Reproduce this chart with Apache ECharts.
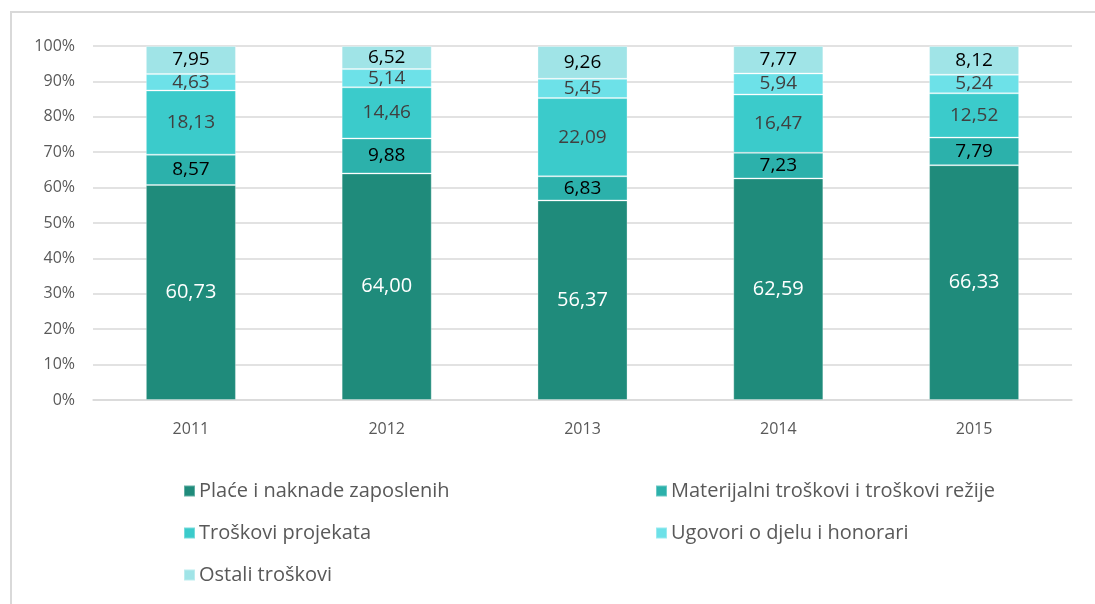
<!DOCTYPE html>
<html>
<head>
<meta charset="utf-8">
<script src="https://cdn.jsdelivr.net/npm/echarts@6/dist/echarts.min.js"></script>
<style>
  html, body { margin: 0; padding: 0; background: #fff; }
  #wrap { position: relative; width: 1095px; height: 604px; }
  #myChart { width: 1095px; height: 604px; }
  #frame {
    position: absolute; left: 10px; top: 11px; right: -5px; bottom: -5px;
    border-left: 2px solid #d9d9d9; border-top: 2px solid #d9d9d9;
    pointer-events: none;
  }
</style>
</head>
<body>
<div id="wrap">
  <div id="myChart"></div>
  <div id="frame"></div>
</div>
<script>
  // godine
  var years = ['2011', '2012', '2013', '2014', '2015'];
  var names = [
    'Plaće i naknade zaposlenih',
    'Materijalni troškovi i troškovi režije',
    'Troškovi projekata',
    'Ugovori o djelu i honorari',
    'Ostali troškovi'
  ];
  // udjeli u %
  var place = [60.73, 64.00, 56.37, 62.59, 66.33];
  var materijalni = [8.57, 9.88, 6.83, 7.23, 7.79];
  var projekti = [18.13, 14.46, 22.09, 16.47, 12.52];
  var ugovori = [4.63, 5.14, 5.45, 5.94, 5.24];
  var ostali = [7.95, 6.52, 9.26, 7.77, 8.12];
  var yTicks = [0, 10, 20, 30, 40, 50, 60, 70, 80, 90, 100];

  var colors = ['#1f8b7b', '#2cb1ab', '#3bcbcb', '#6de1e8', '#a0e4e7'];
  var labelColors = ['#ffffff', '#000000', '#404040', '#404040', '#000000'];
  var labelSizes = [20, 19, 19, 19, 19];
  var fontFam = '"Open Sans", sans-serif';

  function fmt(p) { return p.value.toFixed(2).replace('.', ','); }

  var allData = [place, materijalni, projekti, ugovori, ostali];
  var series = allData.map(function (d, i) {
    return {
      name: names[i],
      type: 'bar',
      stack: 'ukupno',
      barWidth: '46%',
      data: d,
      itemStyle: { color: colors[i], borderColor: 'rgba(255,255,255,0.3)', borderWidth: 1 },
      label: {
        show: true,
        position: 'inside',
        formatter: fmt,
        color: labelColors[i],
        fontSize: labelSizes[i],
        fontFamily: fontFam
      },
      emphasis: { disabled: true }
    };
  });

  var legendText = { color: '#595959', fontSize: 20, fontFamily: fontFam, lineHeight: 20, padding: [0, 0, 0, -1] };

  var option = {
    animation: false,
    grid: { left: 93, right: 23, top: 46, bottom: 204 },
    xAxis: {
      type: 'category',
      data: years,
      axisLine: { lineStyle: { color: '#d9d9d9', width: 1.5 } },
      axisTick: { show: false },
      axisLabel: { color: '#595959', fontSize: 16, fontFamily: fontFam, margin: 21 }
    },
    yAxis: {
      type: 'value',
      min: yTicks[0],
      max: yTicks[yTicks.length - 1],
      interval: 10,
      axisLine: { show: false },
      axisTick: { show: false },
      splitLine: { lineStyle: { color: '#d9d9d9', width: 1.5 } },
      axisLabel: {
        color: '#595959', fontSize: 16, fontFamily: fontFam, margin: 18,
        formatter: function (v) { return v + '%'; }
      }
    },
    legend: [
      {
        data: [names[0], names[2], names[4]],
        orient: 'vertical', left: 178, top: 476, itemGap: 22,
        icon: 'rect', itemWidth: 11, itemHeight: 11,
        textStyle: legendText, selectedMode: false
      },
      {
        data: [names[1], names[3]],
        orient: 'vertical', left: 650, top: 476, itemGap: 22,
        icon: 'rect', itemWidth: 11, itemHeight: 11,
        textStyle: legendText, selectedMode: false
      }
    ],
    series: series
  };

  var myChart = echarts.init(document.getElementById('myChart'));
  myChart.setOption(option);
</script>
</body>
</html>
